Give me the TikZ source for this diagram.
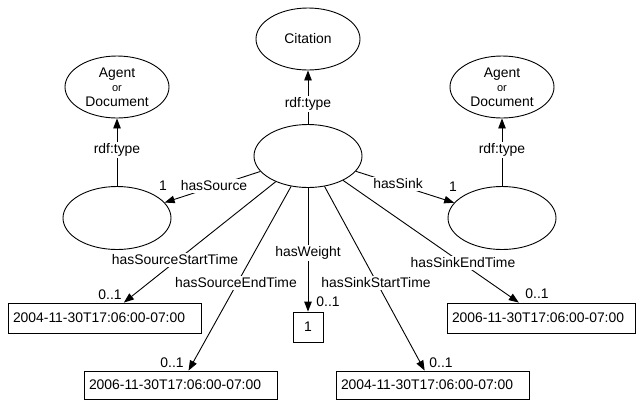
\documentclass[tikz,border=0pt]{standalone}
\usepackage{fontspec}
\setmainfont{Liberation Sans}
\usetikzlibrary{arrows.meta,shapes.geometric}
\begin{document}
\begin{tikzpicture}[x=1pt,y=-1pt,
  every node/.style={font=\fontsize{13.9}{14.5}\selectfont},
  ell/.style={draw, ellipse, line width=0.9pt, inner sep=0pt, minimum width=104pt, minimum height=62pt, align=center},
  bigell/.style={ell, minimum width=108pt, minimum height=63pt},
  valbox/.style={draw, rectangle, line width=0.9pt, minimum height=30pt, inner xsep=5pt, inner ysep=0pt, text width=183pt, align=left},
  numbox/.style={draw, rectangle, line width=0.9pt, minimum width=30pt, minimum height=30pt, inner sep=0pt},
  arr/.style={line width=0.9pt, -{Triangle[length=10pt,width=7.5pt]}},
  lbl/.style={fill=white, inner sep=1.5pt},
  card/.style={inner sep=0pt}
]
\useasboundingbox (0,0) rectangle (636,400);

% ellipses
\node[ell] (citation) at (308,39) {Citation};
\node[bigell] (central) at (308,156) {};
\node[ell] (agentL) at (117,87) {Agent\\{\fontsize{11}{11}\selectfont or}\\Document};
\node[ell] (agentR) at (502,87) {Agent\\{\fontsize{11}{11}\selectfont or}\\Document};
\node[bigell] (srcN) at (117,218) {};
\node[bigell] (sinkN) at (502,218) {};

% value boxes
\node[valbox] (srcStart) at (104.5,318) {2004-11-30T17:06:00-07:00};
\node[valbox, minimum height=28pt] (srcEnd) at (180.5,385) {2006-11-30T17:06:00-07:00};
\node[numbox] (weight) at (308,327) {1};
\node[valbox, minimum height=28pt] (sinkStart) at (432.5,385) {2004-11-30T17:06:00-07:00};
\node[valbox, text width=178pt] (sinkEnd) at (541,318) {2006-11-30T17:06:00-07:00};

% connectors
\draw[arr] (central) -- (citation);
\draw[arr] (srcN) -- (agentL);
\draw[arr] (sinkN) -- (agentR);
\draw[arr] (central) -- (srcN);
\draw[arr] (central) -- (sinkN);
\draw[arr] (central) -- (srcStart);
\draw[arr] (central) -- (srcEnd);
\draw[arr] (central) -- (weight);
\draw[arr] (central) -- (sinkStart);
\draw[arr] (central) -- (sinkEnd);

% connector labels
\node[lbl] (l1) at (308,104) {rdf:type};
\node[lbl] (l2) at (117,150) {rdf:type};
\node[lbl] (l3) at (502,150) {rdf:type};
\node[lbl] (l4) at (214,186) {hasSource};
\node[lbl] (l5) at (398,184) {hasSink};
\node[lbl] (l6) at (175,260) {hasSourceStartTime};
\node[lbl] (l7) at (236,283) {hasSourceEndTime};
\node[lbl] (l8) at (308,253) {hasWeight};
\node[lbl] (l9) at (376,283) {hasSinkStartTime};
\node[lbl] (l10) at (463,263) {hasSinkEndTime};

% cardinalities
\node[card] (c1) at (163,186) {1};
\node[card] (c2) at (453,187) {1};
\node[card] (c3) at (110,295) {0..1};
\node[card] (c4) at (172,363) {0..1};
\node[card] (c5) at (328,302) {0..1};
\node[card] (c6) at (441,363) {0..1};
\node[card] (c7) at (537,294) {0..1};
\end{tikzpicture}
\end{document}
